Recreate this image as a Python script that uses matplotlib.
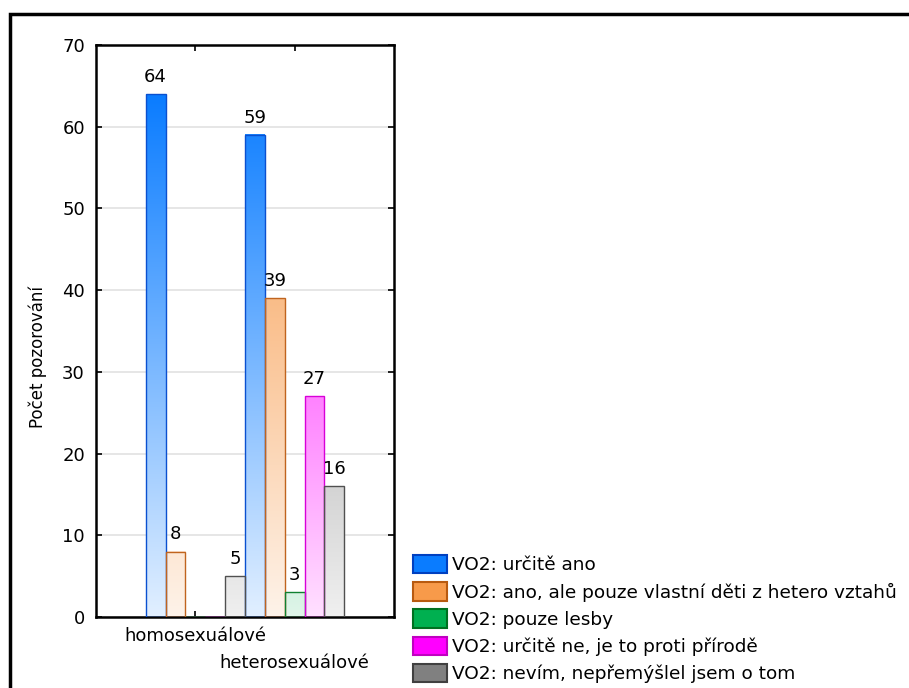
import numpy as np
import matplotlib
matplotlib.use("Agg")
import matplotlib.pyplot as plt
from matplotlib.patches import Patch, Rectangle
from matplotlib.transforms import ScaledTranslation
from matplotlib.colors import to_rgb

plt.rcParams['font.family'] = ['DejaVu Sans']

# data
categories = ['homosexuálové', 'heterosexuálové']
series = ['VO2: určitě ano',
          'VO2: ano, ale pouze vlastní děti z hetero vztahů',
          'VO2: pouze lesby',
          'VO2: určitě ne, je to proti přírodě',
          'VO2: nevím, nepřemýšlel jsem o tom']
values = [[64, 59],
          [8, 39],
          [0, 3],
          [0, 27],
          [5, 16]]
y_ticks = [0, 10, 20, 30, 40, 50, 60, 70]

face_colors = ['#0a7cff', '#f79a4a', '#00b050', '#ff00ff', '#808080']
edge_colors = ['#0a50d0', '#c0641e', '#108030', '#d800d8', '#505050']
legend_edges = ['#0040c0', '#b85a10', '#007020', '#c000c0', '#404040']

fig = plt.figure(figsize=(9.09, 6.88), dpi=100)
ax = fig.add_axes([96 / 909, 71 / 688, 298 / 909, 572 / 688])

# outer frame
fig.patches.append(Rectangle((10 / 909, -0.1), 1.2, (688 - 14) / 688 + 0.1,
                             transform=fig.transFigure, fill=False,
                             edgecolor='black', linewidth=2.5))

width = 0.2
x = np.arange(len(categories))
ref_max = 64.0
lo = 0.12

for i, (name, vals) in enumerate(zip(series, values)):
    offs = x + (i - 2) * width
    base = np.array(to_rgb(face_colors[i]))
    for xc, v in zip(offs, vals):
        if v <= 0:
            continue
        # vertical gradient: pale at the bottom, full colour near the top
        yy = np.linspace(0, v, 200)
        t = lo + (1 - lo) * yy / ref_max
        t = np.clip(t, 0, 1)
        grad = 1 - t[:, None] * (1 - base[None, :])
        ax.imshow(grad[:, None, :], extent=[xc - width / 2, xc + width / 2, 0, v],
                  origin='lower', aspect='auto', interpolation='bilinear', zorder=2)
        ax.text(xc, v + 1.0, str(v), ha='center', va='bottom', fontsize=13, zorder=4)
    ax.bar(offs, vals, width, facecolor='none', edgecolor=edge_colors[i],
           linewidth=1.0, zorder=3)

ax.set_xlim(-1, 2)
ax.set_ylim(0, 70)
ax.set_yticks(y_ticks)
ax.set_xticks(x)
ax.set_xticklabels(categories, fontsize=13)
ax.tick_params(axis='both', direction='in', length=4, width=1.2,
               top=True, right=True, labelsize=13)
ax.tick_params(axis='y', pad=8)
ax.tick_params(axis='x', pad=7)
lbl = ax.get_xticklabels()[1]
lbl.set_transform(lbl.get_transform() + ScaledTranslation(0, -0.27, fig.dpi_scale_trans))

ax.yaxis.grid(True, color='#e2e2e2', linewidth=1.2, zorder=0)
ax.set_axisbelow(True)
for s in ax.spines.values():
    s.set_linewidth(1.8)

fig.text(38 / 909, 1 - 357 / 688, 'Počet pozorování', rotation=90,
         ha='center', va='center', fontsize=12)

handles = [Patch(facecolor=face_colors[i], edgecolor=legend_edges[i], linewidth=1.5,
                 label=series[i]) for i in range(len(series))]
fig.legend(handles=handles, loc='upper left', bbox_to_anchor=(413 / 909, 1 - 555 / 688),
           frameon=False, fontsize=13.3, handlelength=1.85, handleheight=1.15,
           labelspacing=0.42, handletextpad=0.28, borderpad=0, borderaxespad=0)

fig.savefig('out.png', dpi=100)
